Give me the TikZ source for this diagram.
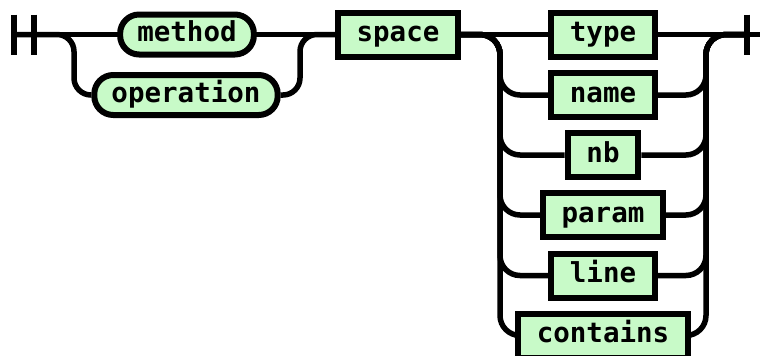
\documentclass[tikz,border=0pt]{standalone}
\usepackage{fontspec}
\usepackage{tikz}
\usetikzlibrary{backgrounds}
\newfontfamily\railfont{DejaVu Sans Mono}
\definecolor{railgreen}{RGB}{200,250,200}
\tikzset{
    box/.style={draw, line width=6pt, fill=railgreen, inner ysep=0pt,
        text height=20pt, text depth=6pt,
        font=\railfont\bfseries\fontsize{27.5}{30}\selectfont},
    term/.style={box, rounded corners=19pt, minimum height=40pt, inner xsep=17.2pt},
    nonterm/.style={box, minimum height=44pt, inner xsep=18.8pt},
    rail/.style={line width=5.5pt},
    bar/.style={line width=5.5pt}
}

\begin{document}
\begin{tikzpicture}[x=1pt, y=-1pt]
    \useasboundingbox (0,0) rectangle (763,356);
    % Terminals of the first choice
    \node[term] (method) at (187,34.5) {method};
    \node[term] (operation) at (186,95) {operation};
    \node[nonterm] (space) at (398,34.5) {space};
    % Column of the second choice
    \node[nonterm] (type) at (603,34.5) {type};
    \node[nonterm] (name) at (603,95) {name};
    \node[nonterm] (nb) at (603,155) {nb};
    \node[nonterm] (param) at (603,215) {param};
    \node[nonterm] (line) at (603,275.5) {line};
    \node[nonterm] (contains) at (603,335.5) {contains};
    % Split and join points
    \coordinate (start) at (14,34.5);
    \coordinate (start2) at (34,34.5);
    \coordinate (lsplit) at (74,34.5);
    \coordinate (ljoin) at (300,34.5);
    \coordinate (rsplit) at (500,34.5);
    \coordinate (rjoin) at (706,34.5);
    \coordinate (finish) at (747,34.5);
    \coordinate (tail) at (760,34.5);
    \begin{scope}[on background layer]
        % Start and end bars
        \draw[bar] ([yshift=20pt]start) -- ([yshift=-20pt]start);
        \draw[bar] ([yshift=20pt]start2) -- ([yshift=-20pt]start2);
        \draw[bar] ([yshift=20pt]finish) -- ([yshift=-20pt]finish);
        % First choice
        \draw[rail] (start) -- (method.west);
        \draw[rail, rounded corners=17pt] (start) -| (lsplit |- operation.west) -- (operation.west);
        \draw[rail] (method.east) -- (space.west);
        \draw[rail, rounded corners=17pt] (operation.east) -| (ljoin) -- (space.west);
        % Second choice
        \draw[rail] (space.east) -- (type.west);
        \draw[rail] (type.east) -- (tail);
        \foreach \n in {name, nb, param, line, contains} {
            \draw[rail, rounded corners=20pt] (space.east) -| (rsplit |- \n.west) -- (\n.west);
            \draw[rail, rounded corners=20pt] (\n.east) -| (rjoin) -- (finish);
        }
    \end{scope}
\end{tikzpicture}
\end{document}
